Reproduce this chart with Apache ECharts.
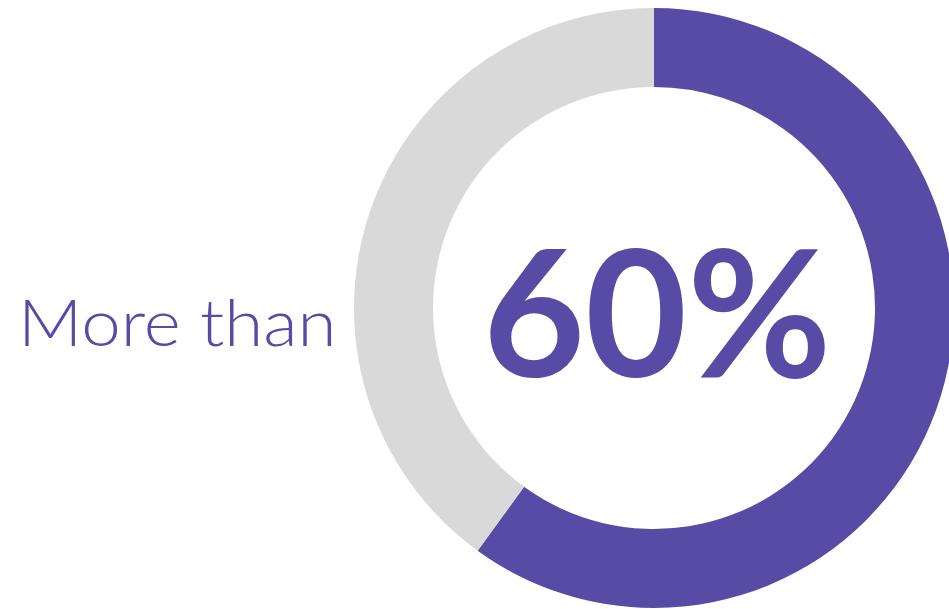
<!DOCTYPE html>
<html>
<head>
<meta charset="utf-8">
<script src="https://cdn.jsdelivr.net/npm/echarts@6/dist/echarts.min.js"></script>
<style>
  html, body { margin: 0; padding: 0; background: #fff; }
  #chart { width: 949px; height: 609px; }
</style>
</head>
<body>
<div id="chart"></div>
<script>
// share shown in the donut
const categories = ['Share', 'Rest']
const values = [60, 40]
const colors = ['#584BA5', '#D9D9D9']
const leadText = 'More than'

const chart = echarts.init(document.getElementById('chart'))

chart.setOption({
  animation: false,
  graphic: [{
    type: 'text',
    x: 18,
    y: 293,
    scaleX: 1.09,
    style: {
      text: leadText,
      fill: '#584BA5',
      font: '300 65px Lato, "DejaVu Sans", sans-serif'
    }
  }, {
    type: 'text',
    left: 483,
    top: 232,
    style: {
      text: values[0] + '%',
      fill: '#584BA5',
      font: 'bold 176px Lato, "DejaVu Sans", sans-serif'
    }
  }],
  series: [{
    type: 'pie',
    silent: true,
    center: [654, 308],
    radius: [221, 300],
    startAngle: 90,
    clockwise: true,
    label: { show: false },
    labelLine: { show: false },
    data: categories.map((name, i) => ({
      name,
      value: values[i],
      itemStyle: { color: colors[i] }
    }))
  }]
})
</script>
</body>
</html>
